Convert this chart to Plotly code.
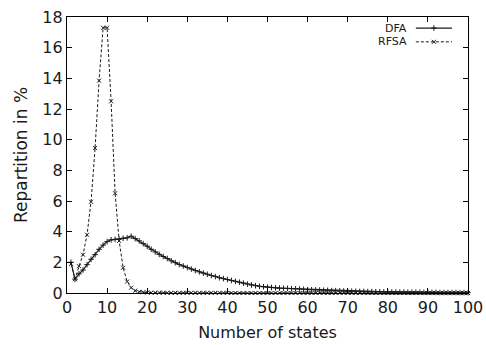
import plotly.graph_objects as go

# Number of states (x) and share of automata in % for each construction
states = list(range(1, 101))

dfa = [
    2.0, 0.9, 1.25, 1.5, 1.85, 2.2, 2.5, 2.85, 3.12, 3.35,
    3.47, 3.5, 3.52, 3.57, 3.6, 3.7, 3.55, 3.4, 3.22, 3.05,
    2.85, 2.68, 2.52, 2.38, 2.25, 2.1, 1.98, 1.86, 1.76, 1.66,
    1.56, 1.46, 1.38, 1.3, 1.22, 1.14, 1.07, 1.0, 0.94, 0.88,
    0.82, 0.76, 0.7, 0.64, 0.58, 0.52, 0.48, 0.44, 0.41, 0.38,
    0.36, 0.34, 0.32, 0.31, 0.3, 0.28, 0.27, 0.26, 0.24, 0.22,
    0.21, 0.2, 0.19, 0.18, 0.17, 0.16, 0.15, 0.14, 0.13, 0.12,
    0.11, 0.11, 0.1, 0.1, 0.09, 0.09, 0.08, 0.08, 0.07, 0.07,
    0.07, 0.06, 0.06, 0.06, 0.05, 0.05, 0.05, 0.05, 0.04, 0.04,
    0.04, 0.04, 0.03, 0.03, 0.03, 0.03, 0.03, 0.02, 0.02, 0.02,
]

rfsa = [
    1.9, 0.9, 1.75, 2.5, 3.8, 5.95, 9.45, 13.85, 17.3, 17.3,
    12.5, 6.5, 3.4, 1.65, 0.75, 0.35, 0.15, 0.08, 0.05, 0.03,
    0.02, 0.02, 0.02, 0.02, 0.01, 0.01, 0.01, 0.01, 0.01, 0.01,
    0.01, 0.01, 0.01, 0.01, 0.01, 0.01, 0.01, 0.01, 0.01, 0.01,
    0.0, 0.0, 0.0, 0.0, 0.0, 0.0, 0.0, 0.0, 0.0, 0.0,
    0.0, 0.0, 0.0, 0.0, 0.0, 0.0, 0.0, 0.0, 0.0, 0.0,
    0.0, 0.0, 0.0, 0.0, 0.0, 0.0, 0.0, 0.0, 0.0, 0.0,
    0.0, 0.0, 0.0, 0.0, 0.0, 0.0, 0.0, 0.0, 0.0, 0.0,
    0.0, 0.0, 0.0, 0.0, 0.0, 0.0, 0.0, 0.0, 0.0, 0.0,
    0.0, 0.0, 0.0, 0.0, 0.0, 0.0, 0.0, 0.0, 0.0, 0.0,
]

x_ticks = list(range(0, 101, 10))
y_ticks = list(range(0, 19, 2))

FONT = "DejaVu Sans, Verdana, sans-serif"
INK = "#1a1a1a"

dfa_style = dict(line=dict(color=INK, width=1.2),
                 marker=dict(symbol="cross-thin", size=4, line=dict(color=INK, width=1)))
rfsa_style = dict(line=dict(color=INK, width=1, dash="3px,2px"),
                  marker=dict(symbol="x-thin", size=4, line=dict(color=INK, width=1)))

fig = go.Figure()
fig.add_trace(go.Scatter(x=states, y=dfa, mode="lines+markers", name="DFA",
                         showlegend=False, cliponaxis=False, **dfa_style))
fig.add_trace(go.Scatter(x=states, y=rfsa, mode="lines+markers", name="RFSA",
                         showlegend=False, cliponaxis=False, **rfsa_style))

# gnuplot-style key: label on the left, sample line with a marker on the right
key_rows = [("DFA", 0.960, dfa_style), ("RFSA", 0.910, rfsa_style)]
for label, ky, style in key_rows:
    fig.add_trace(go.Scatter(x=[0.870, 0.960], y=[ky, ky], mode="lines",
                             line=style["line"], xaxis="x2", yaxis="y2",
                             showlegend=False, hoverinfo="skip"))
    fig.add_trace(go.Scatter(x=[0.915], y=[ky], mode="markers",
                             marker=style["marker"], xaxis="x2", yaxis="y2",
                             showlegend=False, hoverinfo="skip"))
    fig.add_annotation(text=label, xref="paper", yref="paper", x=0.853, y=ky,
                       xanchor="right", yanchor="middle", showarrow=False,
                       font=dict(family=FONT, size=11, color=INK))

axis_common = dict(showline=True, linecolor="black", linewidth=1.3, mirror="allticks",
                   ticks="inside", ticklen=5, tickwidth=1, tickcolor="black",
                   showgrid=False, zeroline=False, automargin=False,
                   tickfont=dict(family=FONT, size=16, color=INK))

fig.update_layout(
    width=486, height=345,
    margin=dict(l=67, r=18, t=17, b=52),
    paper_bgcolor="white", plot_bgcolor="white",
    xaxis=dict(range=[0, 100], tickvals=x_ticks,
               title=dict(text="Number of states", standoff=10,
                          font=dict(family=FONT, size=16, color=INK)),
               **axis_common),
    yaxis=dict(range=[0, 18], tickvals=y_ticks,
               title=dict(text="Repartition in %", standoff=10,
                          font=dict(family=FONT, size=17, color=INK)),
               **axis_common),
    xaxis2=dict(range=[0, 1], overlaying="x", visible=False),
    yaxis2=dict(range=[0, 1], overlaying="y", visible=False),
)

fig.write_html("out.html")
